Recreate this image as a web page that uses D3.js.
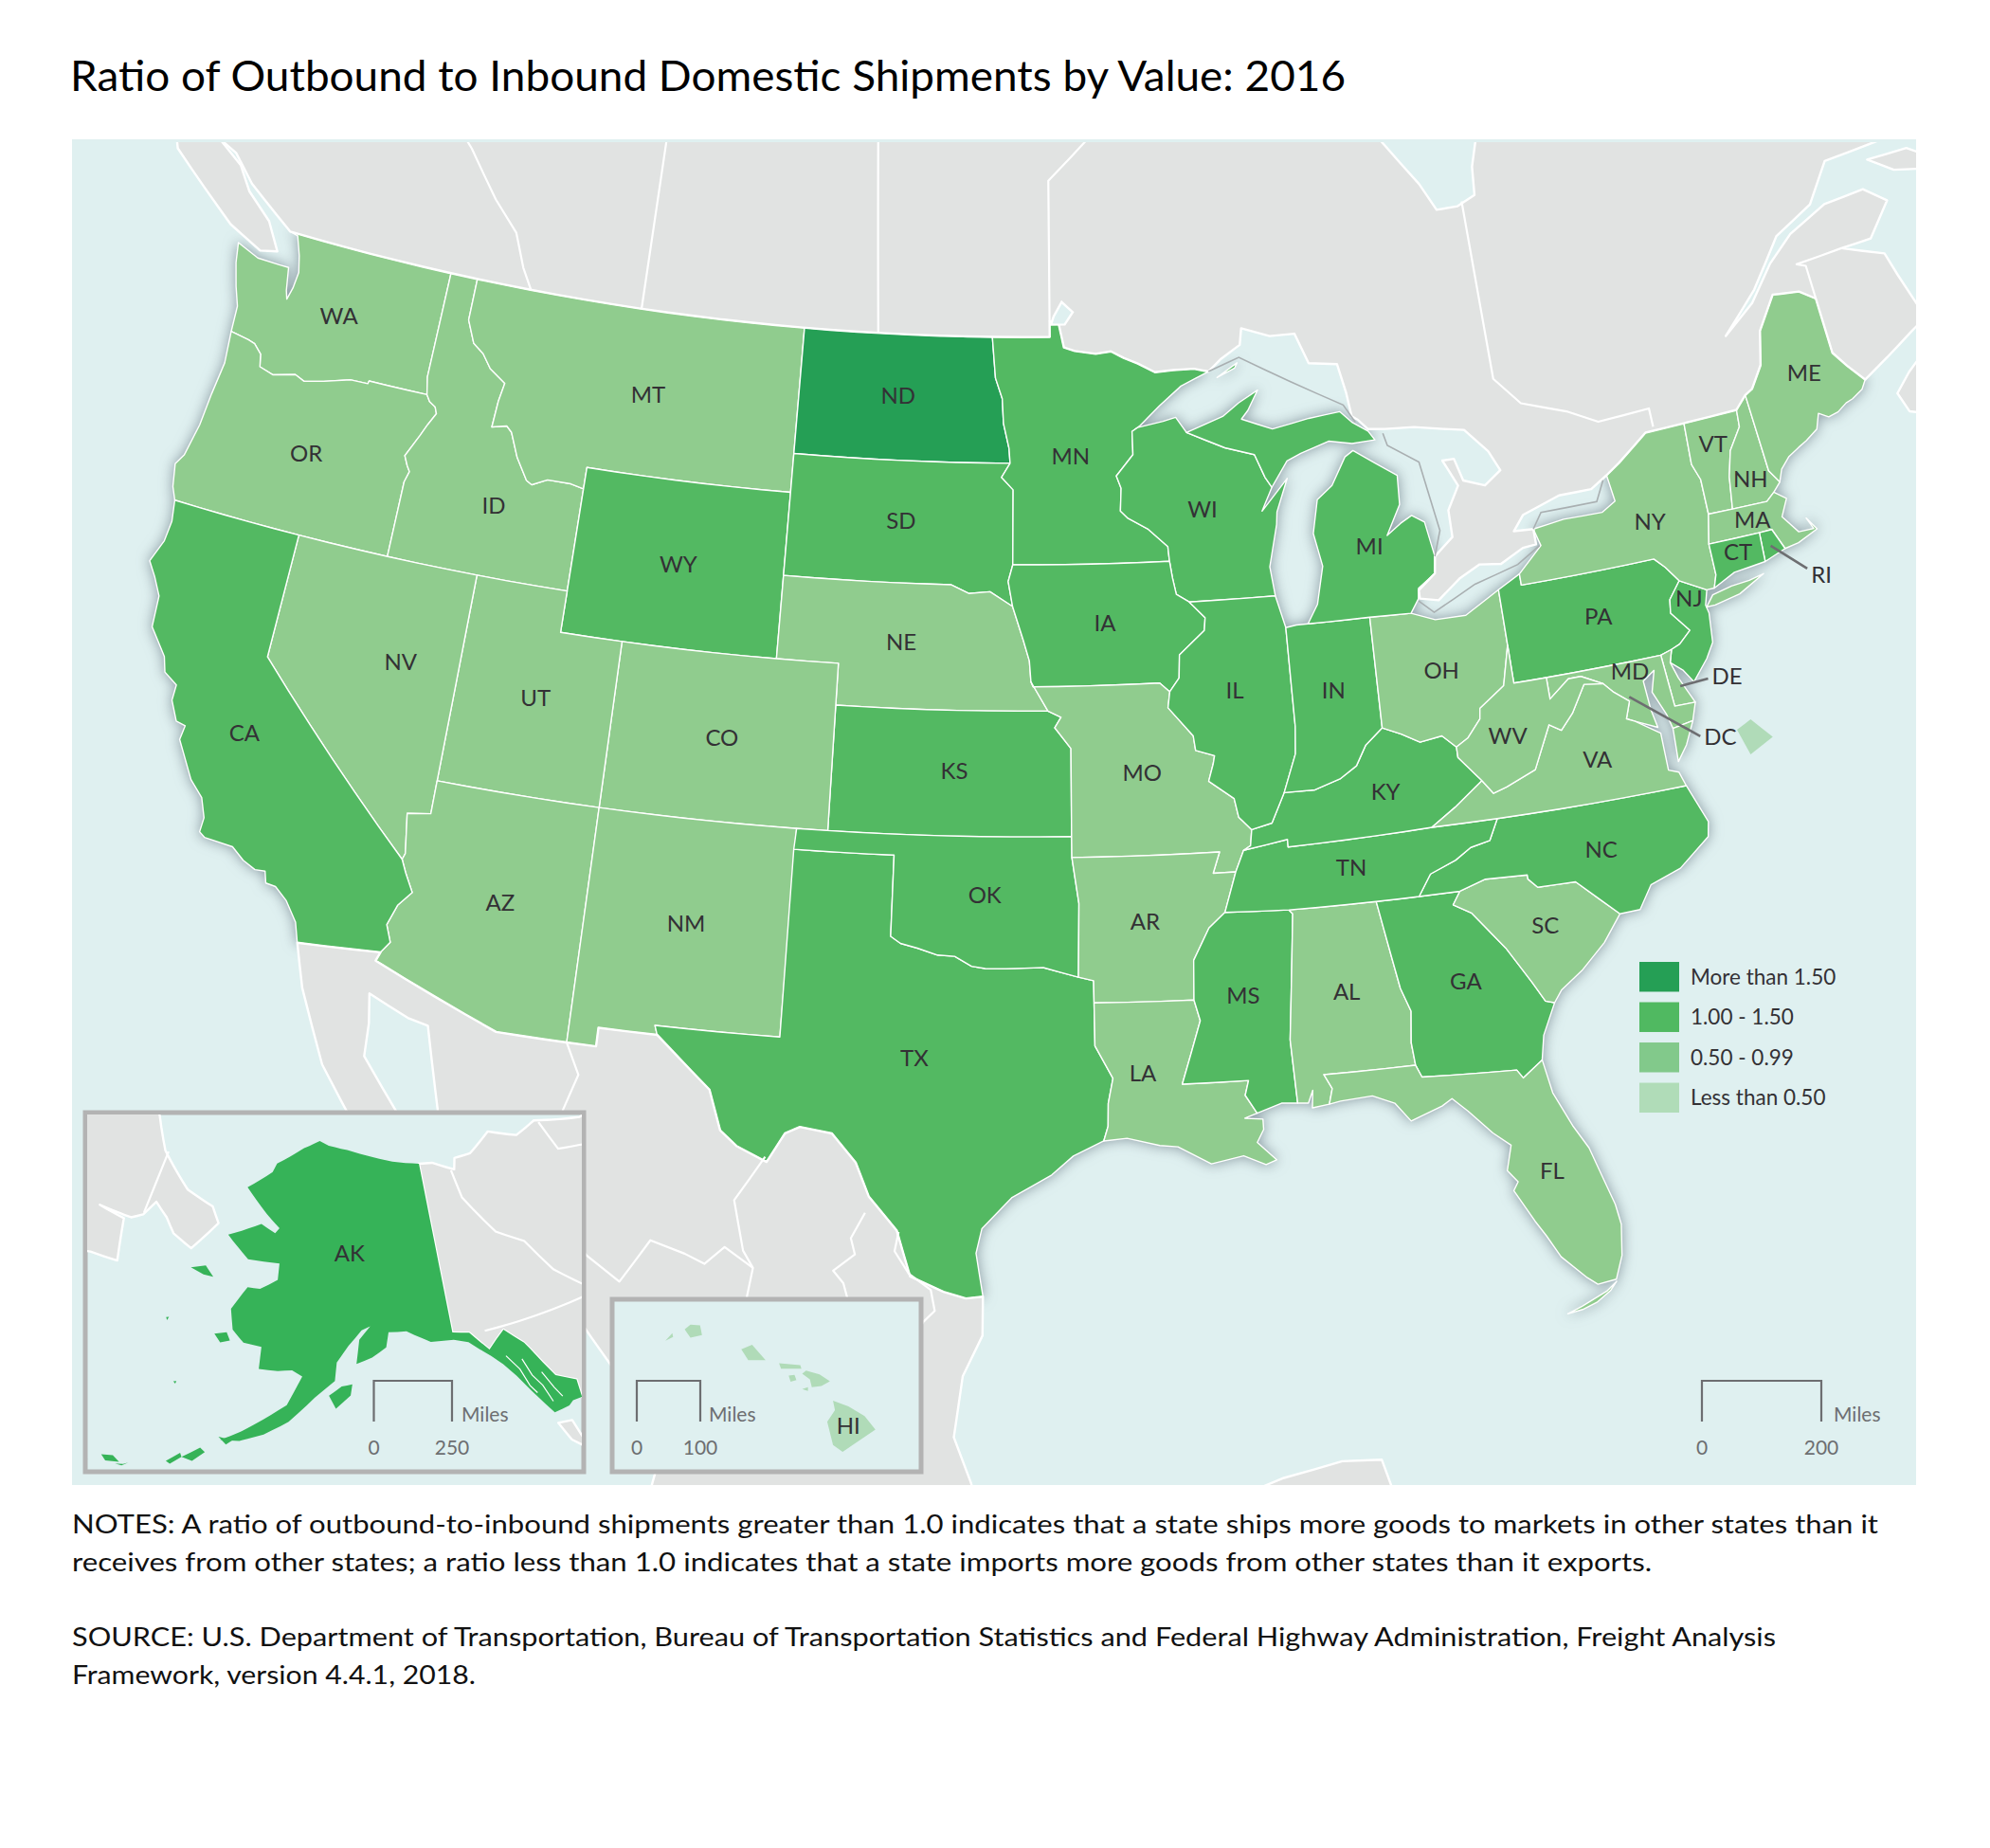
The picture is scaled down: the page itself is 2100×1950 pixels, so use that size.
<!DOCTYPE html>
<html>
<head>
<meta charset="utf-8">
<script src="https://cdn.jsdelivr.net/npm/d3@7"></script>
<style>
	body { margin: 0; background: #fff; }
	text { font-family: Lato, 'Open Sans', sans-serif; }
</style>
</head>
<body>
<svg id="chart" width="2100" height="1950"></svg>
<script>
// ratio classes
const legendLabels = ['More than 1.50', '1.00 - 1.50', '0.50 - 0.99', 'Less than 0.50'];
const classMoreThan150 = ['ND'];
const class100to150 = ['CA', 'WY', 'SD', 'MN', 'IA', 'WI', 'IL', 'IN', 'MI', 'KS', 'OK', 'TX', 'MS', 'GA', 'TN', 'KY', 'NC', 'PA', 'NJ', 'CT', 'RI', 'AK'];
const class050to099 = ['WA', 'OR', 'ID', 'MT', 'NV', 'UT', 'CO', 'AZ', 'NM', 'NE', 'MO', 'AR', 'LA', 'AL', 'FL', 'SC', 'VA', 'WV', 'OH', 'NY', 'VT', 'NH', 'ME', 'MA', 'MD', 'DE'];
const classLessThan050 = ['DC', 'HI'];

// label anchors, lon / lat
const labelCodes = ['WA', 'OR', 'ID', 'MT', 'ND', 'SD', 'WY', 'NE', 'CO', 'KS', 'UT', 'NV', 'CA', 'AZ', 'NM', 'TX', 'OK', 'MN', 'IA', 'MO', 'AR', 'LA', 'MS', 'AL', 'GA', 'FL', 'SC', 'NC', 'TN', 'KY', 'VA', 'WV', 'OH', 'IN', 'IL', 'WI', 'MI', 'PA', 'NY', 'VT', 'NH', 'ME', 'MA', 'CT', 'NJ', 'MD'];
const labelLon = [-120.57, -120.45, -113.93, -109.33, -100.54, -100.24, -107.55, -100.06, -105.54, -98.24, -111.5, -115.89, -120.1, -111.55, -106.04, -99.18, -97.24, -94.46, -93.43, -92.4, -92.48, -92.7, -89.72, -86.73, -83.28, -81.64, -80.76, -78.75, -86.23, -84.95, -78.37, -80.97, -82.73, -86.21, -89.35, -90.01, -84.53, -77.49, -75.21, -72.56, -71.63, -68.93, -71.91, -72.63, -74.52, -76.85];
const labelLat = [47.35, 43.95, 43.72, 46.96, 47.5, 44.5, 43.0, 41.6, 39.0, 38.56, 39.36, 39.6, 37.1, 34.4, 34.5, 31.66, 35.6, 46.1, 42.08, 38.48, 34.94, 31.3, 33.05, 32.94, 32.85, 28.05, 33.9, 35.46, 35.88, 37.57, 37.57, 38.5, 40.27, 40.13, 40.33, 44.69, 43.46, 40.92, 42.9, 44.35, 43.33, 45.43, 42.37, 41.7, 40.9, 39.5];

// callouts: label, state end, label end
const calloutCodes = ['RI', 'DE', 'DC'];
const calloutFrom = [[-71.55, 41.65], [-75.4, 38.9], [-77.03, 38.9]];
const calloutTo = [[-70.6, 40.9], [-74.5, 38.93], [-75.13, 37.63]];

const scaleMiles = [200, 250, 100];

// shared river and border pieces, lon / lat
const rioGrande = [[-106.53, 31.78], [-106, 31.4], [-104.9, 30.6], [-104.5, 29.65], [-104, 29.3], [-103.15, 28.98], [-102.7, 29.7], [-102.3, 29.88], [-101.4, 29.77], [-100.7, 29.1], [-100.3, 28.3], [-99.5, 27.5], [-99.1, 26.4], [-98.2, 26.05], [-97.6, 25.9], [-97.15, 25.95]];
const redRiver = [[-100, 34.56], [-99.7, 34.4], [-99.2, 34.3], [-98.6, 34.15], [-98.1, 34.13], [-97.6, 33.9], [-97.2, 33.85], [-96.6, 33.85], [-95.5, 33.88], [-94.48, 33.64]];
const ohioRiverEast = [[-82.6, 38.42], [-83, 38.73], [-83.7, 38.65], [-84.25, 38.9], [-84.82, 39.1]];
const ohioRiverWest = [[-84.82, 39.1], [-85.4, 38.73], [-85.75, 38.27], [-86.3, 38], [-87.1, 37.8], [-88.05, 37.8]];
const sabineBorder = [[-94.04, 33.02], [-94.04, 31.99], [-93.55, 31.2], [-93.7, 30.6], [-93.72, 30.05], [-93.85, 29.7]];
const bitterroot = [[-116.05, 49], [-116.05, 47.98], [-115.7, 47.45], [-115.3, 47.25], [-114.95, 46.93], [-114.35, 46.65], [-114.45, 46.2], [-114.5, 45.56], [-114, 45.65], [-113.8, 45.52], [-113.45, 44.95], [-113, 44.45], [-112.8, 44.37], [-112.3, 44.55], [-111.5, 44.55], [-111.05, 44.48]];
const snakeRiver = [[-116.92, 46], [-116.78, 45.85], [-116.55, 45.75], [-116.46, 45.6], [-116.67, 45.3], [-116.85, 45], [-117.2, 44.45], [-117.05, 44.23], [-116.93, 44.1], [-117.03, 43.83], [-117.03, 42]];
const columbiaRiver = [[-124.05, 46.27], [-123.4, 46.2], [-123.15, 46.15], [-122.85, 45.95], [-122.75, 45.65], [-122.25, 45.55], [-121.5, 45.7], [-121.15, 45.6], [-120.5, 45.72], [-119.6, 45.92], [-119, 45.93], [-118.98, 46], [-116.92, 46]];
const redRiverNorth = [[-97.23, 49], [-97.1, 48], [-96.85, 47.5], [-96.8, 46.9], [-96.6, 46.3], [-96.56, 45.94]];
const missouriSouthDakota = [[-96.45, 42.5], [-97.2, 42.85], [-97.9, 42.8], [-98.5, 43]];
const missouriIowa = [[-96.45, 42.5], [-96.1, 41.7], [-95.9, 41.2], [-95.85, 40.7]];
const mississippiUpper = [[-91.22, 43.5], [-91.15, 43.1], [-91.05, 42.7], [-90.64, 42.5]];
const mississippiIowa = [[-90.64, 42.5], [-90.15, 42.1], [-90.2, 41.8], [-91.05, 41.25], [-91.1, 40.7], [-91.42, 40.38]];
const mississippiMissouri = [[-91.42, 40.38], [-91.5, 40], [-90.75, 39.3], [-90.7, 38.95], [-90.12, 38.8], [-90.18, 38.6], [-90.35, 38.2], [-89.6, 37.75], [-89.5, 37.3], [-89.13, 36.98]];
const mississippiSouth = [[-90.1, 35.05], [-90.6, 34.7], [-91.1, 33.95], [-91.15, 33]];
const mississippiDelta = [[-91.15, 33], [-91, 32.5], [-91.6, 31]];

const outlineWA = [[-124.73, 48.38], [-123.9, 48.16], [-123.1, 48.15], [-122.75, 48.15], [-122.6, 47.6], [-122.5, 47.4], [-122.4, 47.7], [-122.35, 48.1], [-122.5, 48.5], [-122.75, 48.95], [-123.05, 49], [-117.03, 49], [-117.04, 46.42], [-116.92, 46], ...columbiaRiver.slice().reverse(), [-124.1, 46.9], [-124.35, 47.35], [-124.6, 47.9]];
const outlineOR = [...columbiaRiver, ...snakeRiver.slice(1), [-120, 42], [-124.21, 42], [-124.4, 42.3], [-124.55, 42.84], [-124.35, 43.1], [-124.15, 43.9], [-124.07, 44.7], [-123.95, 45.5]];
const outlineID = [[-117.03, 49], ...bitterroot, [-111.05, 42], [-117.03, 42], ...snakeRiver.slice().reverse(), [-117.04, 46.42]];
const outlineMT = [...bitterroot, [-111.05, 45], [-104.05, 45], [-104.05, 49]];
const outlineWY = [[-111.05, 45], [-104.05, 45], [-104.05, 41], [-111.05, 41]];
const outlineND = [[-104.05, 49], ...redRiverNorth, [-104.05, 45.94]];
const outlineSD = [[-104.05, 45.94], [-96.56, 45.94], [-96.85, 45.6], [-96.45, 45.3], [-96.45, 43.5], [-96.6, 43.1], ...missouriSouthDakota, [-104.05, 43]];
const outlineNE = [[-104.05, 43], ...missouriSouthDakota.slice().reverse(), ...missouriIowa.slice(1), [-95.31, 40], [-102.05, 40], [-102.05, 41], [-104.05, 41]];
const outlineKS = [[-102.05, 40], [-95.31, 40], [-94.9, 39.85], [-95.1, 39.6], [-94.6, 39.1], [-94.62, 37], [-102.05, 37]];
const outlineCO = [[-109.05, 41], [-102.05, 41], [-102.05, 37], [-109.05, 37]];
const outlineUT = [[-114.04, 42], [-111.05, 42], [-111.05, 41], [-109.05, 41], [-109.05, 37], [-114.05, 37]];
const outlineNV = [[-120, 42], [-114.04, 42], [-114.05, 37], [-114.05, 36.2], [-114.75, 36.1], [-114.57, 35.15], [-114.63, 35], [-120, 39]];
const outlineAZ = [[-114.05, 37], [-109.05, 37], [-109.05, 31.33], [-111.07, 31.33], [-114.81, 32.5], [-114.72, 32.72], [-114.5, 33], [-114.7, 33.4], [-114.5, 33.9], [-114.15, 34.27], [-114.45, 34.7], [-114.63, 35], [-114.57, 35.15], [-114.75, 36.1], [-114.05, 36.2]];
const outlineCA = [[-124.21, 42], [-120, 42], [-120, 39], [-114.63, 35], [-114.45, 34.7], [-114.15, 34.27], [-114.5, 33.9], [-114.7, 33.4], [-114.5, 33], [-114.72, 32.72], [-117.12, 32.53], [-117.3, 33], [-117.7, 33.45], [-118.1, 33.72], [-118.4, 33.75], [-118.5, 34.02], [-118.8, 34], [-119.2, 34.15], [-119.6, 34.4], [-120.47, 34.45], [-120.65, 34.55], [-120.63, 34.9], [-120.85, 35.35], [-121.3, 35.7], [-121.95, 36.55], [-121.9, 36.9], [-122.2, 36.95], [-122.5, 37.4], [-122.5, 37.78], [-122.95, 38], [-123.1, 38.35], [-123.73, 38.95], [-123.8, 39.7], [-124.1, 40.1], [-124.41, 40.44], [-124.15, 41], [-124.1, 41.5]];
const outlineNM = [[-109.05, 37], [-103, 37], [-103.04, 32], [-106.62, 32], [-106.53, 31.78], [-108.21, 31.78], [-108.21, 31.33], [-109.05, 31.33]];
const outlineTX = [[-103.04, 36.5], [-100, 36.5], ...redRiver, [-94.04, 33.55], ...sabineBorder, [-94.7, 29.35], [-95.3, 28.9], [-96.4, 28.35], [-97.2, 27.6], [-97.35, 27], ...rioGrande.slice().reverse(), [-106.62, 32], [-103.04, 32]];
const outlineOK = [[-103, 37], [-94.62, 37], [-94.62, 36.5], [-94.43, 35.4], ...redRiver.slice().reverse(), [-100, 36.5], [-103.04, 36.5]];
const outlineMN = [...redRiverNorth, [-96.85, 45.6], [-96.45, 45.3], [-96.45, 43.5], [-91.22, 43.5], [-91.25, 43.85], [-91.9, 44.3], [-92.55, 44.57], [-92.8, 44.75], [-92.75, 45.3], [-92.9, 45.6], [-92.3, 46.1], [-92.3, 46.66], [-92.1, 46.75], [-92, 46.8], [-91.3, 47.25], [-90.5, 47.7], [-89.49, 48.01], [-90, 48.1], [-90.75, 48.1], [-91.4, 48.07], [-92, 48.3], [-92.5, 48.45], [-92.95, 48.62], [-93.5, 48.57], [-94.25, 48.65], [-94.64, 48.74], [-94.82, 49.32], [-95.15, 49.38], [-95.15, 49]];
const outlineWI = [[-92.1, 46.75], [-91.2, 46.87], [-90.75, 46.95], [-90.4, 46.57], [-89.1, 46.14], [-88.1, 45.92], [-87.8, 45.35], [-87.6, 45.1], [-88, 44.55], [-87.05, 45.28], [-87.5, 44.5], [-87.55, 44.2], [-87.9, 43.2], [-87.8, 42.5], ...mississippiUpper.slice().reverse(), [-91.25, 43.85], [-91.9, 44.3], [-92.55, 44.57], [-92.8, 44.75], [-92.75, 45.3], [-92.9, 45.6], [-92.3, 46.1], [-92.3, 46.66]];
const outlineIA = [[-96.45, 43.5], ...mississippiUpper, ...mississippiIowa.slice(1), [-91.73, 40.6], [-95.78, 40.58], ...missouriIowa.slice().reverse(), [-96.6, 43.1]];
const outlineMO = [[-95.78, 40.58], [-91.73, 40.6], ...mississippiMissouri, [-89.2, 36.6], [-89.42, 36.5], [-89.7, 36], [-90.38, 36], [-90.15, 36.5], [-94.62, 36.5], [-94.62, 37], [-94.6, 39.1], [-95.1, 39.6], [-94.9, 39.85], [-95.31, 40], [-95.85, 40.7]];
const outlineAR = [[-94.62, 36.5], [-90.15, 36.5], [-90.38, 36], [-89.7, 36], ...mississippiSouth, [-94.04, 33.02], [-94.04, 33.55], [-94.48, 33.64], [-94.43, 35.4]];
const outlineLA = [[-94.04, 33.02], ...mississippiDelta, [-89.73, 31], [-89.85, 30.65], [-89.55, 30.2], [-89.9, 30.1], [-89.4, 30.05], [-89.4, 29.8], [-89.6, 29.5], [-89.1, 29.05], [-89.4, 28.95], [-90, 29.2], [-90.9, 29.05], [-91.8, 29.5], [-92.3, 29.55], [-93.2, 29.75], ...sabineBorder.slice().reverse()];
const outlineMS = [...mississippiSouth, ...mississippiDelta.slice(1), [-89.73, 31], [-89.85, 30.65], [-89.55, 30.2], [-88.85, 30.4], [-88.4, 30.37], [-88.47, 31.9], [-88.1, 34.9], [-88.2, 35]];
const outlineAL = [[-88.2, 35], [-85.6, 35], [-85.18, 32.87], [-84.95, 32.3], [-85.05, 31.55], [-85, 31], [-87.6, 31], [-87.4, 30.65], [-87.52, 30.28], [-88, 30.23], [-87.95, 30.65], [-88.1, 30.35], [-88.4, 30.37], [-88.47, 31.9], [-88.1, 34.9]];
const outlineGA = [[-85.6, 35], [-83.1, 35], [-83.35, 34.7], [-82.85, 34.45], [-82, 33.5], [-81.4, 32.6], [-81.1, 32.1], [-80.85, 32.03], [-81.3, 31.3], [-81.45, 30.72], [-82.05, 30.36], [-82.2, 30.57], [-84.86, 30.7], [-85, 31], [-85.05, 31.55], [-84.95, 32.3], [-85.18, 32.87]];
const outlineFL = [[-87.6, 31], [-85, 31], [-84.86, 30.7], [-82.2, 30.57], [-82.05, 30.36], [-81.45, 30.72], [-81.3, 29.9], [-80.9, 29.05], [-80.55, 28.45], [-80.1, 27], [-80.03, 26.5], [-80.15, 25.75], [-80.4, 25.2], [-80.9, 25.15], [-81.15, 25.35], [-81.75, 25.95], [-82.05, 26.5], [-82.3, 26.9], [-82.75, 27.7], [-82.6, 27.9], [-82.85, 28.2], [-82.65, 28.8], [-83.1, 29.15], [-83.7, 29.75], [-84.1, 30.1], [-84.4, 29.95], [-85.3, 29.68], [-85.7, 30.15], [-86.3, 30.38], [-87.2, 30.33], [-87.52, 30.28], [-87.4, 30.65]];
const outlineKeys = [[-80.4, 25.15], [-80.6, 24.95], [-81, 24.72], [-81.4, 24.6], [-81.8, 24.55], [-81.4, 24.68], [-80.7, 24.95]];
const outlineSC = [[-83.1, 35], [-82.3, 35.2], [-81.05, 35.15], [-81.05, 35.05], [-80.8, 34.82], [-79.67, 34.8], [-78.55, 33.86], [-79.15, 33.25], [-79.9, 32.7], [-80.6, 32.3], [-80.85, 32.03], [-81.1, 32.1], [-81.4, 32.6], [-82, 33.5], [-82.85, 34.45], [-83.35, 34.7]];
const outlineNC = [[-84.32, 35], [-83.1, 35], [-82.3, 35.2], [-81.05, 35.15], [-81.05, 35.05], [-80.8, 34.82], [-79.67, 34.8], [-78.55, 33.86], [-77.95, 33.87], [-77.5, 34.4], [-76.55, 34.65], [-75.55, 35.25], [-75.45, 35.6], [-75.87, 36.55], [-81.68, 36.59], [-82, 36.1], [-82.6, 36], [-83.1, 35.75], [-83.9, 35.5]];
const outlineTN = [[-90.1, 35.05], [-88.2, 35], [-85.6, 35], [-84.32, 35], [-83.9, 35.5], [-83.1, 35.75], [-82.6, 36], [-82, 36.1], [-81.68, 36.59], [-83.68, 36.6], [-88.07, 36.5], [-88.07, 36.68], [-89.42, 36.5], [-89.7, 36]];
const outlineKY = [[-89.42, 36.5], [-88.07, 36.68], [-88.07, 36.5], [-83.68, 36.6], [-82.9, 37], [-81.97, 37.54], [-82.6, 38.17], ...ohioRiverEast, ...ohioRiverWest.slice(1), [-88.5, 37.1], [-89.13, 36.98], [-89.2, 36.6]];
const outlineIL = [[-90.64, 42.5], [-87.8, 42.5], [-87.55, 41.72], [-87.53, 39.35], [-87.6, 38.7], [-88.05, 37.8], [-88.5, 37.1], ...mississippiMissouri.slice().reverse(), ...mississippiIowa.slice().reverse().slice(1)];
const outlineIN = [[-87.55, 41.72], [-87.2, 41.76], [-86.82, 41.76], [-84.8, 41.76], ...ohioRiverWest, [-87.6, 38.7], [-87.53, 39.35]];
const outlineOH = [[-84.8, 41.76], [-83.45, 41.73], [-82.7, 41.5], [-81.7, 41.5], [-80.52, 41.98], [-80.52, 40.64], [-80.85, 39.7], [-81.7, 39.25], [-81.75, 39], [-82.2, 38.6], ...ohioRiverEast];
const outlineMILower = [[-86.82, 41.76], [-84.8, 41.76], [-83.45, 41.73], [-83.15, 42.05], [-83.1, 42.3], [-82.5, 42.6], [-82.42, 43], [-82.6, 43.85], [-83, 44.05], [-83.4, 43.9], [-83.9, 43.65], [-83.35, 44.35], [-83.3, 45.05], [-84.7, 45.78], [-85, 45.65], [-85.55, 45], [-86.1, 44.7], [-86.35, 43.9], [-86.15, 43.1], [-86.45, 42.2]];
const outlineMIUpper = [[-90.4, 46.57], [-89.1, 46.9], [-88.5, 47.2], [-87.8, 47.47], [-88.2, 47], [-88.45, 46.8], [-87.4, 46.5], [-86.1, 46.67], [-85, 46.75], [-84.6, 46.45], [-84.1, 46.2], [-83.9, 45.97], [-84.7, 45.95], [-85.5, 46.07], [-86.5, 45.85], [-87, 45.7], [-87.6, 45.1], [-87.8, 45.35], [-88.1, 45.92], [-89.1, 46.14]];
const outlineIsleRoyale = [[-89.2, 47.85], [-88.45, 48.17], [-88.55, 48.05]];
const outlinePA = [[-80.52, 41.98], [-79.76, 42.27], [-79.76, 42], [-75.35, 42], [-75.05, 41.75], [-74.7, 41.36], [-75.13, 40.97], [-75.2, 40.65], [-74.72, 40.15], [-75.13, 39.88], [-75.42, 39.8], [-75.79, 39.72], [-80.52, 39.72], [-80.52, 40.64]];
const outlineNJ = [[-74.7, 41.36], [-73.9, 41], [-74.05, 40.65], [-74, 40.45], [-74.1, 39.75], [-74.4, 39.4], [-74.95, 38.93], [-75.2, 39.25], [-75.55, 39.5], [-75.42, 39.8], [-75.13, 39.88], [-74.72, 40.15], [-75.2, 40.65], [-75.13, 40.97]];
const outlineNY = [[-79.76, 42.27], [-79.76, 42], [-75.35, 42], [-75.05, 41.75], [-74.7, 41.36], [-73.9, 41], [-73.65, 41], [-73.5, 41.3], [-73.49, 42.05], [-73.27, 42.75], [-73.25, 43.6], [-73.43, 44], [-73.35, 45.01], [-74.7, 45], [-75.8, 44.43], [-76.3, 44.2], [-76.2, 43.55], [-76.7, 43.35], [-78, 43.37], [-79.05, 43.27], [-78.9, 42.85]];
const outlineLongIsland = [[-74.03, 40.6], [-73.75, 40.6], [-72.9, 40.72], [-72, 41.05], [-72.5, 40.98], [-73.1, 40.95], [-73.75, 40.85]];
const outlineVT = [[-73.27, 42.75], [-72.46, 42.73], [-72.3, 43.5], [-72.05, 44.1], [-71.55, 44.6], [-71.5, 45.01], [-73.35, 45.01], [-73.43, 44], [-73.25, 43.6]];
const outlineNH = [[-72.46, 42.73], [-71.3, 42.7], [-71, 42.87], [-70.72, 43.07], [-70.98, 43.4], [-71.08, 45.3], [-71.5, 45.01], [-71.55, 44.6], [-72.05, 44.1], [-72.3, 43.5]];
const outlineME = [[-71.08, 45.3], [-70.98, 43.4], [-70.72, 43.07], [-70.55, 43.35], [-70.2, 43.6], [-69.8, 43.75], [-69.5, 43.85], [-69.05, 44.05], [-68.85, 44.4], [-68.55, 44.25], [-68.2, 44.3], [-67.85, 44.45], [-67.6, 44.5], [-67.2, 44.65], [-67, 44.85], [-67.45, 45.3], [-67.8, 45.7], [-67.8, 47.07], [-68.3, 47.35], [-69, 47.43], [-69.22, 47.46], [-70, 46.7], [-70.3, 45.9], [-70.8, 45.4]];
const outlineMA = [[-73.49, 42.05], [-73.27, 42.75], [-72.46, 42.73], [-71.3, 42.7], [-71, 42.87], [-70.65, 42.65], [-70.95, 42.25], [-70.55, 41.8], [-70.05, 41.78], [-70.2, 42.07], [-69.95, 41.75], [-70.65, 41.55], [-71.12, 41.5], [-71.38, 42.02], [-71.8, 42.02]];
const outlineRI = [[-71.8, 42.02], [-71.38, 42.02], [-71.12, 41.5], [-71.85, 41.32]];
const outlineCT = [[-73.49, 42.05], [-71.8, 42.02], [-71.85, 41.32], [-72.9, 41.25], [-73.65, 41], [-73.5, 41.3]];
const outlineDE = [[-75.79, 39.72], [-75.42, 39.8], [-75.55, 39.5], [-75.4, 39.1], [-75.05, 38.45], [-75.7, 38.46]];
const outlineMD = [[-79.48, 39.72], [-75.79, 39.72], [-75.7, 38.46], [-75.05, 38.45], [-75.25, 38.03], [-75.9, 37.95], [-76, 38.3], [-76.3, 38.9], [-76.1, 39.4], [-76.5, 39.2], [-76.45, 38.5], [-76.35, 38.05], [-77, 38.3], [-77.25, 38.4], [-77.05, 38.8], [-77.5, 39.1], [-77.75, 39.33], [-78.4, 39.6], [-78.8, 39.6], [-79.48, 39.2]];
const outlineVA = [[-83.68, 36.6], [-81.68, 36.59], [-75.87, 36.55], [-76, 36.9], [-76.3, 37], [-76.3, 37.55], [-76.3, 37.9], [-77, 38.3], [-77.25, 38.4], [-77.05, 38.8], [-77.5, 39.1], [-77.75, 39.33], [-78.35, 39.4], [-78.87, 38.77], [-79.3, 38.42], [-79.65, 38.6], [-80.3, 37.6], [-81.25, 37.3], [-81.68, 37.2], [-81.97, 37.54], [-82.9, 37]];
const outlineVAShore = [[-75.25, 38.03], [-75.9, 37.95], [-75.95, 37.15], [-75.6, 37.5]];
const outlineWV = [[-82.6, 38.42], [-82.6, 38.17], [-81.97, 37.54], [-81.68, 37.2], [-81.25, 37.3], [-80.3, 37.6], [-79.65, 38.6], [-79.3, 38.42], [-78.87, 38.77], [-78.35, 39.4], [-77.75, 39.33], [-78.4, 39.6], [-78.8, 39.6], [-79.48, 39.2], [-79.48, 39.72], [-80.52, 39.72], [-80.52, 40.64], [-80.85, 39.7], [-81.7, 39.25], [-81.75, 39], [-82.2, 38.6]];
const outlineDC = [[-77.04, 38.995], [-76.91, 38.893], [-77.04, 38.79], [-77.12, 38.934]];

const outlineAK = [[-156.5, 71.35], [-155, 71.1], [-152, 70.85], [-149, 70.5], [-145, 70], [-141, 69.65], [-141, 60.3], [-139.2, 60.1], [-137.5, 58.95], [-136.5, 59.4], [-135.5, 59.8], [-133.8, 58.8], [-133.4, 58.4], [-131.8, 56.6], [-130, 56], [-130.1, 55], [-131, 55], [-131.5, 54.8], [-133, 54.7], [-133.6, 55.3], [-134.5, 56.2], [-135.5, 57.2], [-136.5, 58], [-137.5, 58.6], [-139.5, 59.6], [-141, 59.9], [-143.5, 60], [-146, 60.75], [-148, 60.8], [-148.4, 60], [-150, 59.5], [-151.7, 59.2], [-151.3, 60.5], [-150, 61.2], [-151, 61], [-152.5, 60.2], [-153.8, 59.3], [-154, 58.3], [-156, 57.4], [-158.5, 56], [-160.8, 55.2], [-163, 54.7], [-164.8, 54.6], [-163, 55.2], [-161, 56], [-158.8, 56.9], [-157.4, 58.5], [-158.5, 58.8], [-160, 58.7], [-162, 58.7], [-162, 59.9], [-164, 60], [-165.4, 60.6], [-166, 61.7], [-165, 62.6], [-164.5, 63], [-163, 63], [-161, 63.6], [-161, 64.5], [-163, 64.5], [-165, 64.5], [-168.1, 65.6], [-164, 66.5], [-162, 66.1], [-161.5, 66.4], [-163.5, 67.1], [-166.8, 68.35], [-163.5, 69.4], [-163, 69.9], [-159, 70.9]];
const outlineKodiak = [[-154.6, 57.5], [-153.9, 56.8], [-152.4, 57.5], [-152.2, 58.1], [-153.3, 58]];
const outlineStLawrence = [[-171.7, 63.4], [-170, 63.7], [-168.8, 63.2], [-170, 63.2]];
const outlineNunivak = [[-167.3, 60.2], [-166, 60.4], [-165.5, 60], [-166.5, 59.8]];
const outlineUnalaska = [[-168, 53.3], [-166.5, 54], [-166, 53.8], [-167, 53.2]];
const outlineUmnak = [[-169.3, 52.9], [-168.2, 53.5], [-168, 53.3], [-168.9, 52.8]];
const outlineAtka = [[-175, 52.3], [-174, 52.45], [-173.3, 52.2], [-174.5, 52.05]];
const outlineAdak = [[-177.5, 51.9], [-176.6, 52], [-176, 51.8], [-177, 51.7]];
const outlineAmlia = [[-173.6, 52.05], [-172.9, 52.15], [-172.5, 52.3], [-173, 52.05]];
const outlineUnimak = [[-165, 54.75], [-164, 54.7], [-163.2, 54.9], [-164.2, 54.4]];
const outlineStMatthew = [[-172.9, 60.45], [-172.6, 60.5], [-172.7, 60.3]];
const outlinePribilof = [[-170.4, 57.2], [-170.1, 57.25], [-170.15, 57.1]];
const outlineHawaii = [[-155.9, 20.25], [-155.5, 20.1], [-155.08, 19.85], [-154.8, 19.5], [-155.65, 18.92], [-155.9, 19.1], [-156.05, 19.7], [-155.85, 20]];
const outlineMaui = [[-156.7, 20.95], [-156.6, 21.03], [-156.25, 20.93], [-155.98, 20.75], [-156.2, 20.63], [-156.45, 20.6], [-156.5, 20.8]];
const outlineKahoolawe = [[-156.7, 20.55], [-156.55, 20.6], [-156.55, 20.5]];
const outlineLanai = [[-157.05, 20.9], [-156.9, 20.92], [-156.85, 20.78], [-157, 20.74]];
const outlineMolokai = [[-157.3, 21.22], [-156.75, 21.17], [-156.72, 21.08], [-157.25, 21.08]];
const outlineOahu = [[-158.28, 21.58], [-158, 21.7], [-157.65, 21.3], [-158.1, 21.3]];
const outlineKauai = [[-159.75, 22.1], [-159.6, 22.22], [-159.35, 22.2], [-159.3, 21.95], [-159.6, 21.88]];
const outlineNiihau = [[-160.25, 21.8], [-160.07, 22], [-160.05, 21.9]];

// neighbouring land
const landCanada = [[-130, 62], [-132, 56], [-130, 54.5], [-128, 52.5], [-127.8, 51], [-125.8, 50.45], [-124.9, 49.85], [-123.7, 49.3], [-123.05, 49], [-95.15, 49], [-95.15, 49.38], [-94.82, 49.32], [-94.64, 48.74], [-94.25, 48.65], [-93.5, 48.57], [-92.95, 48.62], [-92.5, 48.45], [-92, 48.3], [-91.4, 48.07], [-90.75, 48.1], [-90, 48.1], [-89.49, 48.01], [-89, 48.3], [-88.3, 48.6], [-88.2, 49], [-87.2, 48.75], [-86.3, 48.75], [-85.9, 48], [-84.9, 47.9], [-84.7, 47.2], [-84.6, 46.6], [-84.4, 46.5], [-84.1, 46.25], [-83.5, 46.2], [-82.5, 46.15], [-81.5, 46], [-80.8, 45.9], [-80.1, 45.3], [-79.8, 44.8], [-80.4, 44.5], [-81.1, 44.7], [-81.3, 45.25], [-81.7, 45.25], [-81.3, 44.6], [-81.75, 44.05], [-81.75, 43.4], [-82.42, 43], [-82.5, 42.6], [-83.1, 42.25], [-83.1, 42.05], [-82.5, 41.95], [-81.7, 42.4], [-81, 42.65], [-80.3, 42.58], [-79.5, 42.87], [-79.05, 42.9], [-79.05, 43.27], [-79.7, 43.3], [-79.3, 43.65], [-78, 43.95], [-76.9, 43.95], [-76.3, 44.2], [-75.8, 44.43], [-74.7, 45], [-73.35, 45.01], [-71.5, 45.01], [-71.08, 45.3], [-70.8, 45.4], [-70.3, 45.9], [-70, 46.7], [-69.22, 47.46], [-69, 47.43], [-68.3, 47.35], [-67.8, 47.07], [-67.8, 45.7], [-67.45, 45.3], [-67, 44.85], [-66.05, 45.2], [-65, 45.6], [-64.3, 45.85], [-64.3, 45.3], [-65.5, 44.7], [-66.1, 44.3], [-65.9, 43.8], [-65, 43.5], [-62, 44.8], [-61, 45.6], [-61.9, 45.65], [-63, 45.75], [-64, 45.85], [-63.8, 46.15], [-64.5, 46.2], [-64.8, 47], [-65, 47.6], [-66.4, 48.05], [-65.3, 48.05], [-64.3, 48.8], [-65, 49.25], [-66.5, 49.2], [-68, 48.75], [-69, 48.2], [-70, 47.4], [-71.2, 46.8], [-69.8, 47.7], [-68.5, 48.8], [-67, 49.3], [-66, 50.2], [-64, 50.25], [-62, 50.25], [-55, 52], [-60, 60], [-79, 58], [-78.5, 53], [-78.9, 52.2], [-79, 51.5], [-79.7, 51.3], [-80.5, 51.3], [-81, 52], [-82.2, 53.2], [-82.3, 55], [-85, 58], [-110, 62]];
const landVancouver = [[-128.4, 50.8], [-127, 50.85], [-125.5, 50.2], [-124.9, 49.65], [-123.9, 49.1], [-123.3, 48.45], [-123.9, 48.35], [-125.2, 48.75], [-126.5, 49.4], [-127.9, 50.1]];
const landAnticosti = [[-64.5, 49.9], [-63, 49.85], [-61.7, 49.15], [-62.5, 49.2], [-63.7, 49.45]];
const landMexico = [[-117.12, 32.53], [-114.72, 32.72], [-114.81, 32.5], [-111.07, 31.33], [-109.05, 31.33], [-108.21, 31.33], [-108.21, 31.78], ...rioGrande, [-97.15, 25], [-97.65, 24], [-97.85, 22.5], [-97.4, 21.4], [-97.15, 20.6], [-96.4, 19.4], [-95.9, 18.8], [-94.8, 18.5], [-94.4, 18.15], [-93, 18.4], [-91.8, 18.6], [-91, 19], [-90.7, 19.8], [-90.4, 21], [-89.5, 21.3], [-88, 21.6], [-87, 21.55], [-86.8, 20.8], [-87.5, 19.5], [-88, 18.5], [-89, 17.9], [-92, 14.5], [-100, 16.5], [-105.5, 20.4], [-105.3, 21.5], [-106, 22.9], [-108, 25], [-109.4, 25.6], [-109.4, 26.7], [-110.5, 27.3], [-111, 28], [-112.2, 28.9], [-113, 31.2], [-113.6, 31.3], [-114.8, 31.7], [-114.65, 31], [-114.6, 30.2], [-113.3, 28.9], [-112.8, 27.9], [-111.6, 26.5], [-110.5, 24.5], [-109.5, 23.2], [-110, 22.9], [-112.1, 24.7], [-112.2, 26], [-113.7, 26.8], [-115, 27.8], [-114.2, 28.2], [-115.7, 29.8], [-116.7, 31.5]];
const landLakeWoods = [[-95.1, 49.3], [-94.6, 49.3], [-94.3, 49.6], [-94.7, 49.85], [-95, 49.5]];

// white province and state lines on that land
const lineBcAlberta = [[-120, 56], [-120, 53.8], [-118.5, 52.9], [-117.3, 52.1], [-116, 51], [-115, 50.3], [-114.5, 49.5], [-114.07, 49]];
const lineAlbertaSask = [[-110, 49], [-110, 56]];
const lineSaskManitoba = [[-101.37, 49], [-102, 56]];
const lineManitobaOntario = [[-95.15, 49.38], [-95.15, 52.85], [-89, 56.9]];
const lineOntarioQuebec = [[-74.4, 45.1], [-74.4, 45.55], [-76.2, 45.5], [-77.2, 45.9], [-78.7, 46.3], [-79.5, 47], [-79.52, 51.4]];
const lineQuebecNB = [[-67.8, 47.07], [-67.8, 47.9], [-68.1, 48], [-66.4, 48.05]];
const lineSonoraChih = [[-109.05, 31.33], [-108.6, 30.6], [-108.9, 29.7], [-108.6, 27]];
const lineChihCoah = [[-103.2, 29.1], [-103.95, 28], [-103.6, 26.8], [-103.3, 26.4], [-103.4, 25.7], [-103.2, 24]];
const lineChihDurango = [[-108.6, 27], [-107.75, 26.3], [-106.8, 25.76], [-106.1, 26.84], [-105.15, 26.6], [-104.6, 26.4], [-104.1, 26.85], [-103.3, 26.4]];
const lineCoahNuevoLeon = [[-100.38, 27.9], [-100.73, 27.27], [-100.6, 26.88], [-101.16, 26.46], [-100.87, 26.17], [-100.75, 25.83], [-100.4, 24]];
const lineNuevoLeonTamps = [[-99.45, 27.47], [-99.54, 27], [-99.14, 26.47], [-98.54, 26.09], [-98.42, 25.58], [-98.72, 25.3], [-99.3, 24]];

// grey boundary across the lakes
const lakeSuperiorBorder = [[-89.49, 48.01], [-88.37, 48.3], [-84.85, 46.9], [-84.5, 46.45]];
const lakeHuronBorder = [[-83.6, 46.1], [-83.5, 45.8], [-82.5, 45.3], [-82.13, 43.6], [-82.42, 43]];
const lakeErieBorder = [[-83.15, 42], [-82.7, 41.68], [-81.25, 42.2], [-79.76, 42.5], [-78.95, 42.85]];
const lakeOntarioBorder = [[-79.05, 43.27], [-78.7, 43.63], [-76.8, 43.63], [-76.45, 44.1]];

// inset land around Alaska
const akCanada = [[-141, 69.65], [-141, 60.3], [-139.2, 60.1], [-137.5, 58.95], [-136.5, 59.4], [-135.5, 59.8], [-133.8, 58.8], [-133.4, 58.4], [-131.8, 56.6], [-130, 56], [-130.1, 55], [-129, 53.5], [-128, 52], [-120, 48], [-100, 48], [-100, 68], [-115.8, 68.7], [-122, 69.8], [-125.4, 69.5], [-129.3, 70.3], [-133, 69.5], [-135.5, 69.5], [-136, 68.9], [-139, 69.55]];
const akHaida = [[-133, 54.1], [-131.7, 54], [-131, 52.2], [-132.3, 53]];
const akRussia = [[-200, 80], [-180, 68.98], [-175, 67.4], [-171, 66.9], [-169.7, 66.1], [-172.3, 64.4], [-175, 64.9], [-176.5, 65.6], [-178.5, 66.2], [-179.5, 65.3], [-180.8, 64.9], [-185.1, 64.8], [-181.6, 64.7], [-180.3, 62.45], [-183.6, 62.3], [-200, 60]];
const akLine60 = [[-137.5, 60], [-120, 60]];
const akLineYukon = [[-136.5, 68.9], [-136, 67.3], [-133, 65], [-130, 64], [-128, 62], [-124.5, 60]];
const akLineNunavut = [[-121.5, 69.6], [-120.8, 67.8], [-115, 67]];
const akLineRussia = [[-179.5, 69], [-179.5, 65.4]];
const akChannelChatham = [[-136, 58.4], [-135, 57.5], [-134.5, 56.5], [-134, 56]];
const akChannelClarence = [[-134.5, 58], [-134, 57], [-133.3, 56.3], [-132.8, 55.3]];
const akChannelSumner = [[-133, 57], [-132.3, 56], [-131.8, 55.4]];

const stateParts = {
	WA: [outlineWA], OR: [outlineOR], ID: [outlineID], MT: [outlineMT], WY: [outlineWY], ND: [outlineND], SD: [outlineSD], NE: [outlineNE],
	KS: [outlineKS], CO: [outlineCO], UT: [outlineUT], NV: [outlineNV], AZ: [outlineAZ], CA: [outlineCA], NM: [outlineNM], TX: [outlineTX],
	OK: [outlineOK], MN: [outlineMN], WI: [outlineWI], IA: [outlineIA], MO: [outlineMO], AR: [outlineAR], LA: [outlineLA], MS: [outlineMS],
	AL: [outlineAL], GA: [outlineGA], FL: [outlineFL, outlineKeys], SC: [outlineSC], NC: [outlineNC], TN: [outlineTN], KY: [outlineKY], IL: [outlineIL],
	IN: [outlineIN], OH: [outlineOH], MI: [outlineMILower, outlineMIUpper, outlineIsleRoyale], PA: [outlinePA], NJ: [outlineNJ], NY: [outlineNY, outlineLongIsland],
	VT: [outlineVT], NH: [outlineNH], ME: [outlineME], MA: [outlineMA], RI: [outlineRI], CT: [outlineCT], DE: [outlineDE], MD: [outlineMD],
	VA: [outlineVA, outlineVAShore], WV: [outlineWV],
};
const alaskaParts = [outlineAK, outlineKodiak, outlineStLawrence, outlineNunivak, outlineUnalaska, outlineUmnak, outlineAtka, outlineAmlia, outlineAdak, outlineUnimak, outlineStMatthew, outlinePribilof];
const hawaiiParts = [outlineHawaii, outlineMaui, outlineKahoolawe, outlineLanai, outlineMolokai, outlineOahu, outlineKauai, outlineNiihau];

const titleText = 'Ratio of Outbound to Inbound Domestic Shipments by Value: 2016';
const noteLines = [
	'NOTES: A ratio of outbound-to-inbound shipments greater than 1.0 indicates that a state ships more goods to markets in other states than it',
	'receives from other states; a ratio less than 1.0 indicates that a state imports more goods from other states than it exports.',
	'SOURCE: U.S. Department of Transportation, Bureau of Transportation Statistics and Federal Highway Administration, Freight Analysis',
	'Framework, version 4.4.1, 2018.',
];

const WATER = '#dff0f0';
const LAND = '#e1e3e2';
const INK = '#333135';
const BAR_GREY = '#6d6e71';
const classes = [classMoreThan150, class100to150, class050to099, classLessThan050];
const classFill = d3.scaleOrdinal().domain([0, 1, 2, 3]).range(['#259f55', '#53b962', '#90cc8e', '#b0dbb8']);
const legendFill = ['#259f55', '#50b961', '#82c98b', '#b0dcb8'];
const fillOf = (code) => classFill(classes.findIndex((c) => c.includes(code)));

const svg = d3.select('#chart');
const panel = { x: 76, y: 147, w: 1946, h: 1420 };

const mainProj = d3.geoConicEqualArea().parallels([29.5, 45.5]).rotate([96, 0]).center([0, 37.5]).scale(2510).translate([1083, 861]);
const akProj = d3.geoConicEqualArea().parallels([55, 65]).rotate([154, 0]).center([0, 60]).scale(1114).translate([353.4, 1424]);
const hiProj = d3.geoEquirectangular().scale(2330).center([-157.5, 20.825]).translate([814, 1454.5]);
const dcProj = d3.geoEquirectangular().scale(10300).center([-77.02, 38.89]).translate([1851, 778]);

// long straight edges follow the projection, so parallels come out curved
function densify(points, closed) {
	const out = [];
	const n = points.length;
	const last = closed ? n : n - 1;
	for (let i = 0; i < last; i++) {
		const a = points[i];
		const b = points[(i + 1) % n];
		const steps = Math.max(1, Math.ceil(Math.max(Math.abs(b[0] - a[0]), Math.abs(b[1] - a[1]))));
		for (let s = 0; s < steps; s++) {
			out.push([a[0] + ((b[0] - a[0]) * s) / steps, a[1] + ((b[1] - a[1]) * s) / steps]);
		}
	}
	if (!closed) out.push(points[n - 1]);
	return out;
}
const ringPath = (proj) => (ring) => d3.line()(densify(ring, true).map(proj)) + 'Z';
const linePath = (proj) => (line) => d3.line()(densify(line, false).map(proj));

svg.append('defs').append('clipPath').attr('id', 'panel-clip').append('rect').attr('x', panel.x).attr('y', panel.y + 3).attr('width', panel.w).attr('height', panel.h - 3);
svg.select('defs').append('clipPath').attr('id', 'ak-clip').append('rect').attr('x', 92).attr('y', 1176).attr('width', 522).attr('height', 375);

svg.append('text').attr('x', 74).attr('y', 96).attr('font-size', 45).attr('fill', '#000').attr('textLength', 1346).attr('lengthAdjust', 'spacingAndGlyphs').text(titleText);

svg.append('rect').attr('x', panel.x).attr('y', panel.y).attr('width', panel.w).attr('height', panel.h).attr('fill', WATER);

const map = svg.append('g').attr('clip-path', 'url(#panel-clip)');

const stateGroup = map.append('g').style('filter', 'drop-shadow(0 0 7px rgba(80,95,108,.6))');
Object.keys(stateParts).forEach((code) => {
	stateGroup.append('g').selectAll('path').data(stateParts[code]).join('path')
		.attr('d', ringPath(mainProj))
		.attr('fill', fillOf(code))
		.attr('stroke', '#fff').attr('stroke-width', 1.4).attr('stroke-linejoin', 'round');
});

map.selectAll('path.land').data([landCanada, landVancouver, landAnticosti, landMexico]).join('path').attr('class', 'land')
	.attr('d', ringPath(mainProj))
	.attr('fill', LAND).attr('stroke', '#fff').attr('stroke-width', 2.4).attr('stroke-linejoin', 'round');
map.append('path').attr('d', ringPath(mainProj)(landLakeWoods)).attr('fill', WATER).attr('stroke', '#fff').attr('stroke-width', 2.4);

map.selectAll('path.province').data([lineBcAlberta, lineAlbertaSask, lineSaskManitoba, lineManitobaOntario, lineOntarioQuebec, lineQuebecNB, lineSonoraChih, lineChihCoah, lineChihDurango, lineCoahNuevoLeon, lineNuevoLeonTamps]).join('path').attr('class', 'province')
	.attr('d', linePath(mainProj))
	.attr('fill', 'none').attr('stroke', '#fff').attr('stroke-width', 2.2).attr('stroke-linejoin', 'round');

map.selectAll('path.lake').data([lakeSuperiorBorder, lakeHuronBorder, lakeErieBorder, lakeOntarioBorder]).join('path').attr('class', 'lake')
	.attr('d', linePath(mainProj))
	.attr('fill', 'none').attr('stroke', '#a9afb1').attr('stroke-width', 1.6);

// DC drawn large, off the coast
svg.append('path').attr('d', ringPath(dcProj)(outlineDC)).attr('fill', fillOf('DC'));

const labelLayer = svg.append('g').attr('font-size', 24).attr('fill', INK).attr('text-anchor', 'middle');
labelLayer.selectAll('text').data(labelCodes).join('text')
	.attr('x', (d, i) => mainProj([labelLon[i], labelLat[i]])[0])
	.attr('y', (d, i) => mainProj([labelLon[i], labelLat[i]])[1])
	.attr('dy', '0.36em')
	.text((d) => d);

svg.append('g').selectAll('line').data(calloutCodes).join('line')
	.attr('x1', (d, i) => mainProj(calloutFrom[i])[0]).attr('y1', (d, i) => mainProj(calloutFrom[i])[1])
	.attr('x2', (d, i) => mainProj(calloutTo[i])[0]).attr('y2', (d, i) => mainProj(calloutTo[i])[1])
	.attr('stroke', BAR_GREY).attr('stroke-width', 2.6);
const calloutDy = [6, -3, 1];
svg.append('g').attr('font-size', 24).attr('fill', INK).selectAll('text').data(calloutCodes).join('text')
	.attr('x', (d, i) => mainProj(calloutTo[i])[0] + 4)
	.attr('y', (d, i) => mainProj(calloutTo[i])[1] + calloutDy[i])
	.attr('dy', '0.36em')
	.text((d) => d);

// legend
const legendY = d3.scaleBand().domain(legendLabels).range([1015, 1174]).paddingInner(0.26);
const legend = svg.append('g');
legend.selectAll('rect').data(legendLabels).join('rect')
	.attr('x', 1730).attr('y', (d) => legendY(d)).attr('width', 42).attr('height', legendY.bandwidth())
	.attr('fill', (d, i) => legendFill[i]);
legend.selectAll('text').data(legendLabels).join('text')
	.attr('x', 1784).attr('y', (d) => legendY(d) + legendY.bandwidth() / 2).attr('dy', '0.36em')
	.attr('font-size', 22.5).attr('fill', INK).text((d) => d);

// scale brackets
function scaleBar(miles, x0, x1, milesX) {
	const top = 1457;
	const bottom = 1500;
	const x = d3.scaleLinear().domain([0, miles]).range([x0, x1]);
	const g = svg.append('g').attr('fill', BAR_GREY).attr('font-size', 21);
	g.append('path').attr('d', d3.line()([[x(0), bottom], [x(0), top], [x(miles), top], [x(miles), bottom]]))
		.attr('fill', 'none').attr('stroke', BAR_GREY).attr('stroke-width', 2.2);
	g.append('text').attr('x', milesX).attr('y', bottom).text('Miles');
	g.selectAll('text.tick').data(x.domain()).join('text').attr('class', 'tick')
		.attr('x', (d) => x(d)).attr('y', 1535).attr('text-anchor', 'middle').text((d) => d);
}
scaleBar(scaleMiles[0], 1796, 1922, 1935);

// Alaska inset
svg.append('rect').attr('x', 90).attr('y', 1174).attr('width', 526).attr('height', 379).attr('fill', WATER).attr('stroke', '#b3b3b3').attr('stroke-width', 5);
const akMap = svg.append('g').attr('clip-path', 'url(#ak-clip)');
akMap.selectAll('path.land').data([akCanada, akHaida, akRussia]).join('path').attr('class', 'land')
	.attr('d', ringPath(akProj))
	.attr('fill', LAND).attr('stroke', '#fff').attr('stroke-width', 2.4).attr('stroke-linejoin', 'round');
akMap.selectAll('path.province').data([akLine60, akLineYukon, akLineNunavut, akLineRussia]).join('path').attr('class', 'province')
	.attr('d', linePath(akProj))
	.attr('fill', 'none').attr('stroke', '#fff').attr('stroke-width', 2.2);
akMap.selectAll('path.state').data(alaskaParts).join('path').attr('class', 'state')
	.attr('d', ringPath(akProj))
	.attr('fill', '#36b358');
akMap.selectAll('path.channel').data([akChannelChatham, akChannelClarence, akChannelSumner]).join('path').attr('class', 'channel')
	.attr('d', linePath(akProj))
	.attr('fill', 'none').attr('stroke', '#fff').attr('stroke-width', 1.2);
svg.append('text').attr('x', akProj([-152.1, 65.2])[0]).attr('y', akProj([-152.1, 65.2])[1]).attr('dy', '0.36em')
	.attr('text-anchor', 'middle').attr('font-size', 24).attr('fill', INK).text('AK');
scaleBar(scaleMiles[1], 394.5, 477, 487);

// Hawaii inset
svg.append('rect').attr('x', 646).attr('y', 1371).attr('width', 326).attr('height', 182).attr('fill', WATER).attr('stroke', '#b3b3b3').attr('stroke-width', 5);
svg.append('g').selectAll('path').data(hawaiiParts).join('path')
	.attr('d', ringPath(hiProj))
	.attr('fill', fillOf('HI'));
svg.append('text').attr('x', hiProj([-155.5, 19.6])[0]).attr('y', hiProj([-155.5, 19.6])[1]).attr('dy', '0.36em')
	.attr('text-anchor', 'middle').attr('font-size', 24).attr('fill', INK).text('HI');
scaleBar(scaleMiles[2], 672, 739, 748);

// notes
const noteY = [1618, 1658, 1737, 1777];
const noteWidth = [1906, 1667, 1798, 426];
svg.append('g').attr('font-size', 27).attr('fill', '#111').selectAll('text').data(noteLines).join('text')
	.attr('x', 76).attr('y', (d, i) => noteY[i])
	.attr('textLength', (d, i) => noteWidth[i]).attr('lengthAdjust', 'spacingAndGlyphs')
	.text((d) => d);
</script>
</body>
</html>
